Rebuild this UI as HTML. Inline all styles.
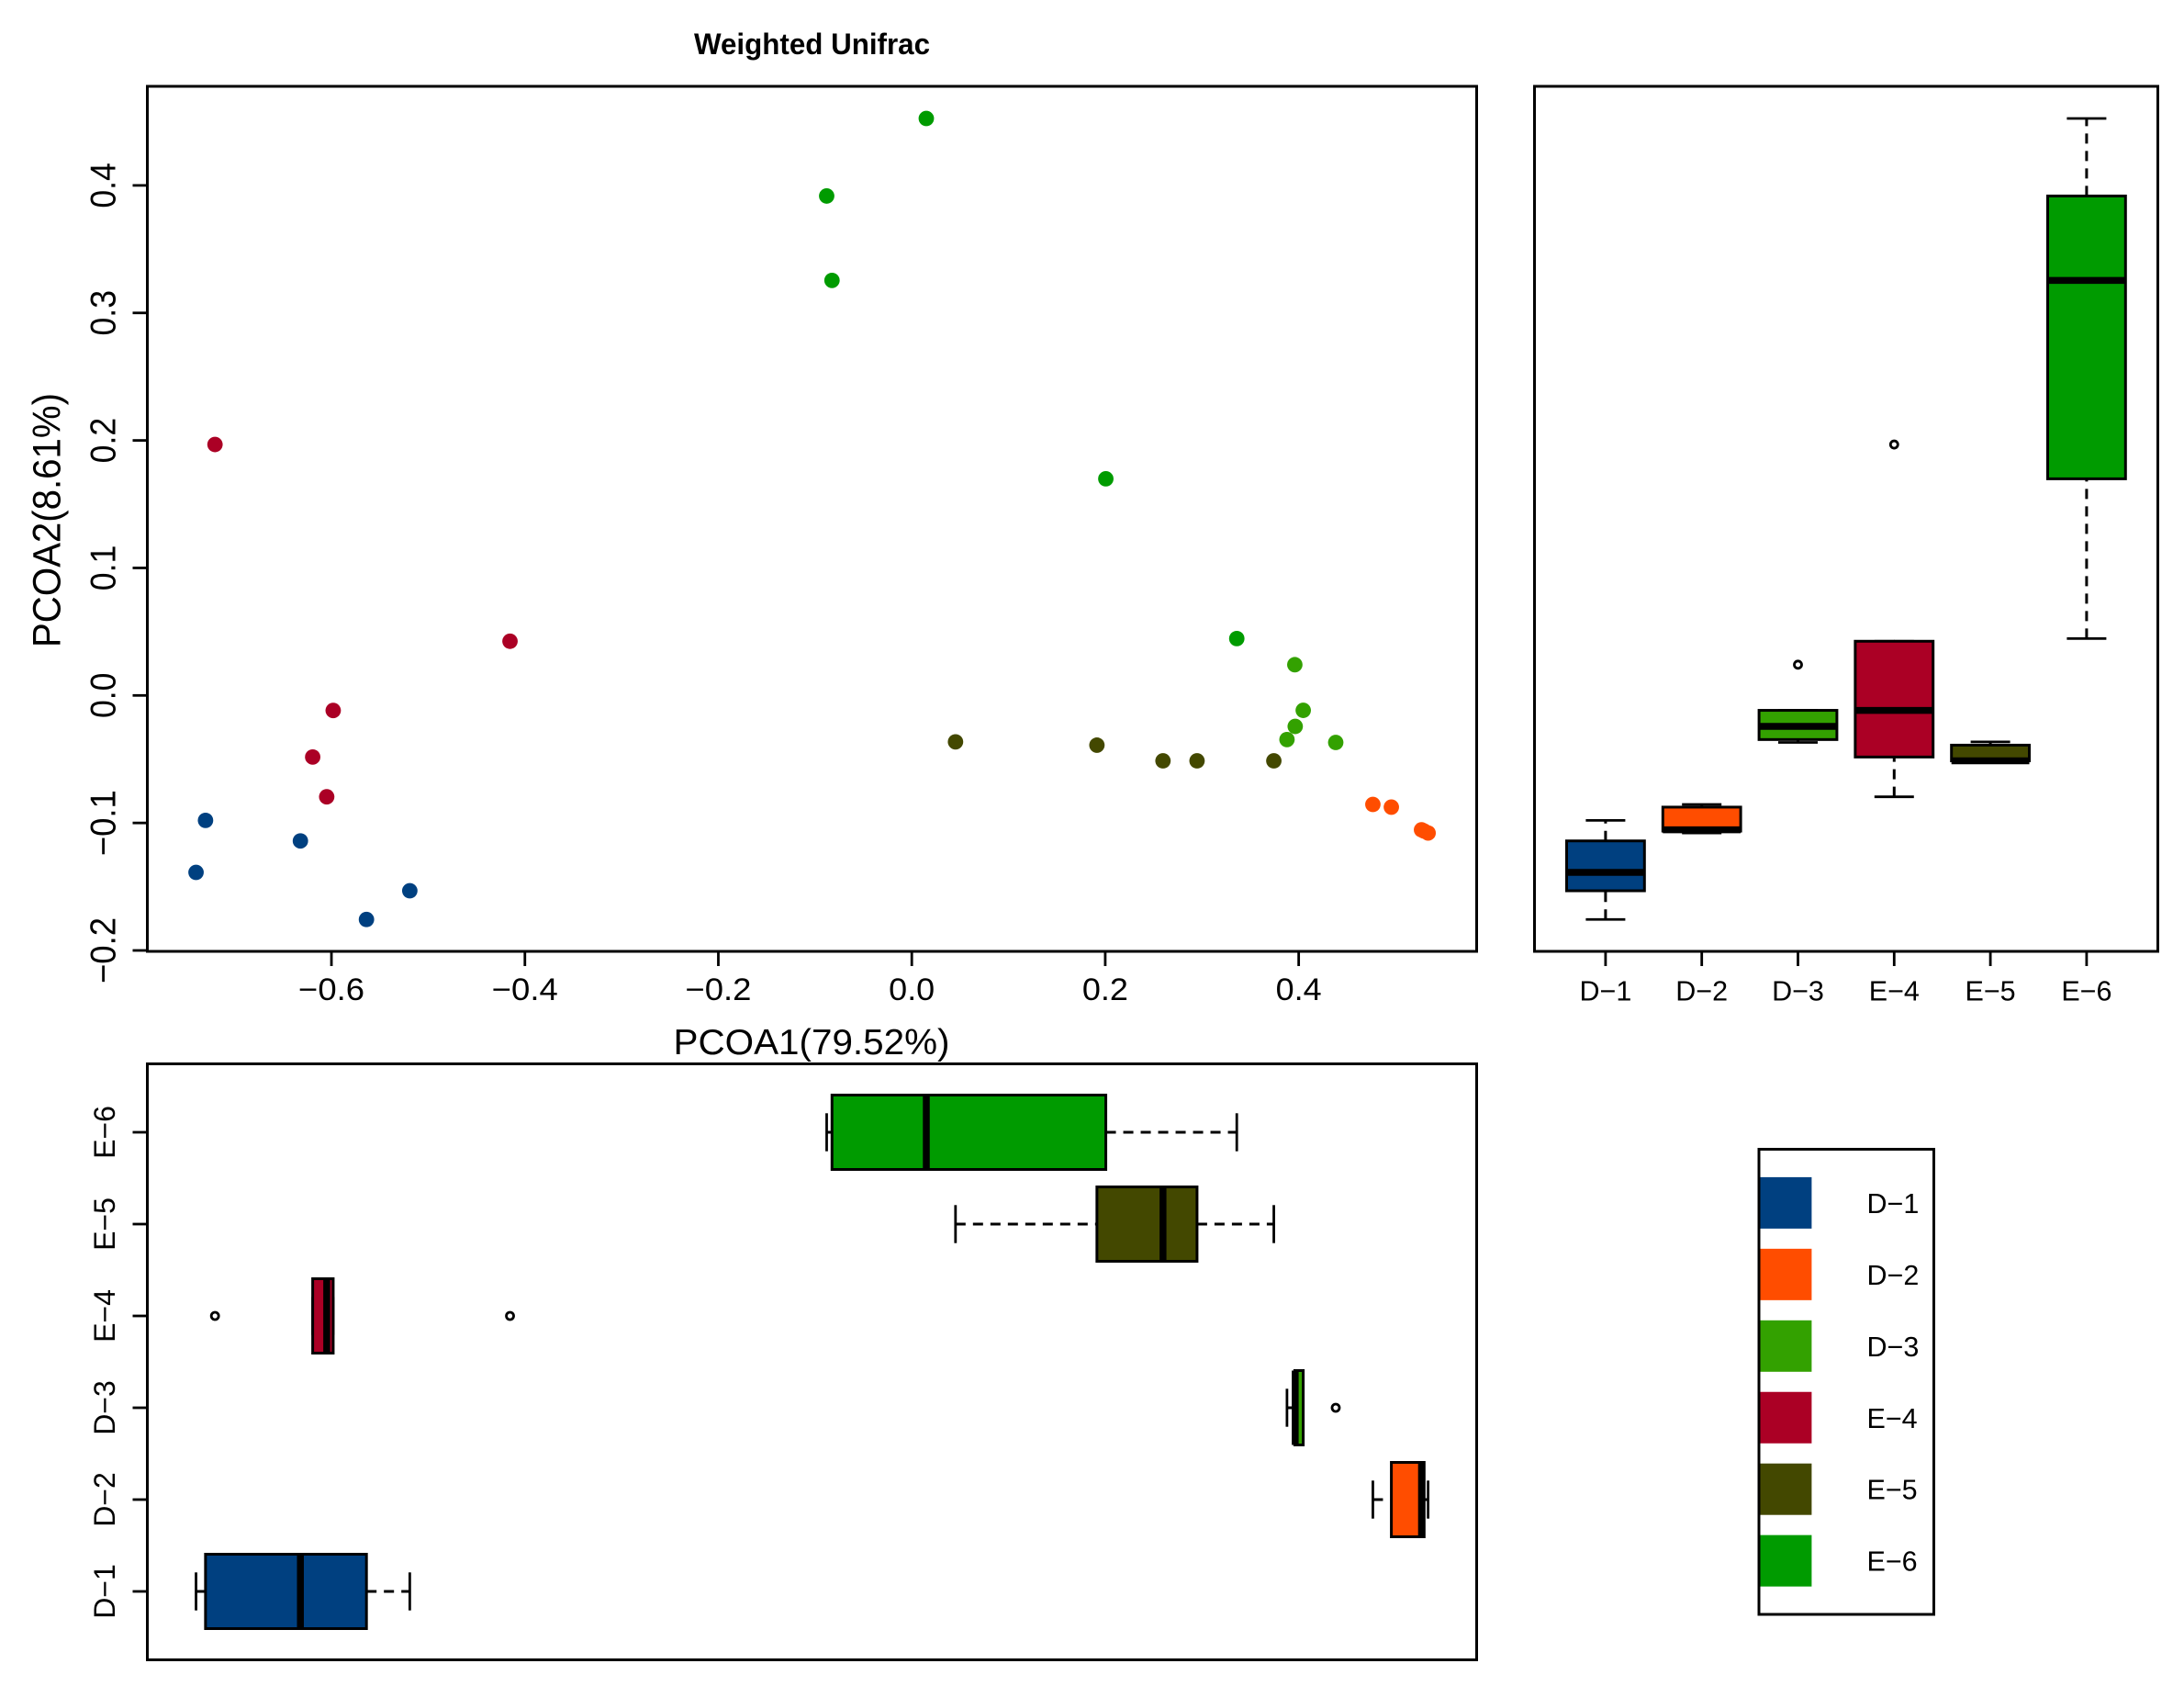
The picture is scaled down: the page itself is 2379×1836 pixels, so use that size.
<!DOCTYPE html>
<html lang="en">
<head>
<meta charset="utf-8">
<title>Weighted Unifrac PCoA</title>
<style>
html,body{margin:0;padding:0;background:#fff;}
svg{display:block;}
text{font-family:"Liberation Sans",sans-serif;fill:#000;}
</style>
</head>
<body>
<svg id="chart" xmlns="http://www.w3.org/2000/svg" width="2379" height="1836" viewBox="0 0 2379 1836">
  <rect x="0" y="0" width="2379" height="1836" fill="#fff"/>
  <text x="756" y="59" font-size="32" font-weight="bold" textLength="257" lengthAdjust="spacingAndGlyphs">Weighted Unifrac</text>
  <text x="733.5" y="1148" font-size="39" textLength="301" lengthAdjust="spacingAndGlyphs">PCOA1(79.52%)</text>
  <text x="65.5" y="705" font-size="43" textLength="277" lengthAdjust="spacingAndGlyphs" transform="rotate(-90 65.5 705)">PCOA2(8.61%)</text>
  <g id="scatter-panel"></g>
  <g id="y-box-panel"></g>
  <g id="x-box-panel"></g>
  <g id="legend"></g>
</svg>
<script>
const categories = ['D\u22121', 'D\u22122', 'D\u22123', 'E\u22124', 'E\u22125', 'E\u22126'];
const groupColors = ['#004080', '#FF4D00', '#33A100', '#AB0025', '#434800', '#009B00'];
const pcoa1D1 = [-0.7302, -0.6321, -0.74, -0.519, -0.5638];
const pcoa2D1 = [-0.098, -0.1141, -0.1388, -0.1532, -0.1757];
const pcoa1D2 = [0.4767, 0.4958, 0.527, 0.5297, 0.5338];
const pcoa2D2 = [-0.0855, -0.0876, -0.1054, -0.1064, -0.1079];
const pcoa1D3 = [0.396, 0.4047, 0.3964, 0.3879, 0.4383];
const pcoa2D3 = [0.0241, -0.0117, -0.0243, -0.0346, -0.0369];
const pcoa1E4 = [-0.7204, -0.4154, -0.5982, -0.6194, -0.6049];
const pcoa2E4 = [0.1968, 0.0425, -0.0118, -0.0483, -0.0795];
const pcoa1E5 = [0.0452, 0.1914, 0.2597, 0.2949, 0.3743];
const pcoa2E5 = [-0.0364, -0.039, -0.0513, -0.0513, -0.0513];
const pcoa1E6 = [0.015, -0.088, -0.0825, 0.2006, 0.336];
const pcoa2E6 = [0.4525, 0.3917, 0.3255, 0.1699, 0.0446];
const xTickValues = [-0.6, -0.4, -0.2, 0, 0.2, 0.4];
const xTickLabels = ['\u22120.6', '\u22120.4', '\u22120.2', '0.0', '0.2', '0.4'];
const yTickValues = [-0.2, -0.1, 0, 0.1, 0.2, 0.3, 0.4];
const yTickLabels = ['\u22120.2', '\u22120.1', '0.0', '0.1', '0.2', '0.3', '0.4'];

const SVGNS = 'http://www.w3.org/2000/svg';
const pcoa1Groups = [pcoa1D1, pcoa1D2, pcoa1D3, pcoa1E4, pcoa1E5, pcoa1E6];
const pcoa2Groups = [pcoa2D1, pcoa2D2, pcoa2D3, pcoa2E4, pcoa2E5, pcoa2E6];

function scaleX(v) { return 993.2 + 1053.6 * v; }
function scaleY(v) { return 757.3 - 1388.5 * v; }
function slotX(i) { return 1748.9 + 104.8 * i; }
function slotY(i) { return 1733 - 100 * i; }

function make(parent, tag, attrs, txt) {
  const el = document.createElementNS(SVGNS, tag);
  for (const k in attrs) el.setAttribute(k, attrs[k]);
  if (txt !== undefined) el.textContent = txt;
  parent.appendChild(el);
  return el;
}

function fivenum(values) {
  const s = values.slice().sort((a, b) => a - b);
  const n = s.length;
  const n4 = Math.floor((n + 3) / 2) / 2;
  const d = [1, n4, (n + 1) / 2, n + 1 - n4, n];
  return d.map(p => 0.5 * (s[Math.floor(p) - 1] + s[Math.ceil(p) - 1]));
}

function boxStats(values) {
  const f = fivenum(values);
  const iqr = f[3] - f[1];
  const inside = values.filter(v => v >= f[1] - 1.5 * iqr && v <= f[3] + 1.5 * iqr);
  const outliers = values.filter(v => v < f[1] - 1.5 * iqr || v > f[3] + 1.5 * iqr);
  return { q1: f[1], med: f[2], q3: f[3], lo: Math.min(...inside), hi: Math.max(...inside), outliers: outliers };
}

function frame(parent, x, y, w, h, name) {
  const el = make(parent, 'rect', { x: x, y: y, width: w, height: h, fill: 'none', stroke: '#000', 'stroke-width': 3 });
  
  
}

/* Scatter panel */
const scatter = document.getElementById('scatter-panel');
frame(scatter, 160.5, 94, 1448, 942, 'scatter-plot-frame');
xTickValues.forEach((v, i) => {
  const t = make(scatter, 'line', { x1: scaleX(v), x2: scaleX(v), y1: 1036, y2: 1052, stroke: '#000', 'stroke-width': 2.8 });
  
  
  const l = make(scatter, 'text', { x: scaleX(v), y: 1089, 'font-size': 34, 'text-anchor': 'middle', textLength: i < 3 ? 72 : 50, lengthAdjust: 'spacingAndGlyphs' }, xTickLabels[i]);
  
  
});
yTickValues.forEach((v, i) => {
  const t = make(scatter, 'line', { x1: 144.5, x2: 160.5, y1: scaleY(v), y2: scaleY(v), stroke: '#000', 'stroke-width': 2.8 });
  
  
  const py = scaleY(v);
  const l = make(scatter, 'text', { x: 125.5, y: py, 'font-size': 39, 'text-anchor': 'middle', textLength: i < 2 ? 72 : 49.5, lengthAdjust: 'spacingAndGlyphs', transform: 'rotate(-90 125.5 ' + py + ')' }, yTickLabels[i]);
  
  
});
pcoa1Groups.forEach((xs, g) => {
  xs.forEach((xv, i) => {
    const p = make(scatter, 'circle', { cx: scaleX(xv), cy: scaleY(pcoa2Groups[g][i]), r: 8.4, fill: groupColors[g] });
    
    
  });
});

/* Box drawing: pos is a pixel slot on the category axis, scale maps values */
function drawBox(parent, stats, color, vertical, pos, half, capHalf, scale) {
  function seg(v1, p1, v2, p2) {
    return vertical
      ? { x1: p1, x2: p2, y1: scale(v1), y2: scale(v2) }
      : { x1: scale(v1), x2: scale(v2), y1: p1, y2: p2 };
  }
  const lowWhisk = make(parent, 'line', Object.assign(seg(stats.lo, pos, stats.q1, pos), { stroke: '#000', 'stroke-width': 3, 'stroke-dasharray': '11 8' }));
  
  
  const highWhisk = make(parent, 'line', Object.assign(seg(stats.q3, pos, stats.hi, pos), { stroke: '#000', 'stroke-width': 3, 'stroke-dasharray': '11 8' }));
  
  
  const lowCap = make(parent, 'line', Object.assign(seg(stats.lo, pos - capHalf, stats.lo, pos + capHalf), { stroke: '#000', 'stroke-width': 2.8 }));
  
  
  const highCap = make(parent, 'line', Object.assign(seg(stats.hi, pos - capHalf, stats.hi, pos + capHalf), { stroke: '#000', 'stroke-width': 2.8 }));
  
  
  const a = scale(stats.q1), b = scale(stats.q3);
  const boxAttrs = vertical
    ? { x: pos - half, y: Math.min(a, b), width: half * 2, height: Math.abs(a - b) }
    : { x: Math.min(a, b), y: pos - half, width: Math.abs(a - b), height: half * 2 };
  const box = make(parent, 'rect', Object.assign(boxAttrs, { fill: color, stroke: '#000', 'stroke-width': 3 }));
  
  
  const med = make(parent, 'line', Object.assign(seg(stats.med, pos - half, stats.med, pos + half), { stroke: '#000', 'stroke-width': 7.5 }));
  
  
  stats.outliers.forEach(v => {
    const o = make(parent, 'circle', {
      cx: vertical ? pos : scale(v),
      cy: vertical ? scale(v) : pos,
      r: 4, fill: 'none', stroke: '#000', 'stroke-width': 2.8
    });
    
    
  });
}

/* PCOA2 boxplots (right) */
const yBoxPanel = document.getElementById('y-box-panel');
frame(yBoxPanel, 1671.5, 94, 679, 942, 'pcoa2-boxplot-frame');
categories.forEach((c, i) => {
  const px = slotX(i);
  const t = make(yBoxPanel, 'line', { x1: px, x2: px, y1: 1036, y2: 1052, stroke: '#000', 'stroke-width': 2.8 });
  
  
  const l = make(yBoxPanel, 'text', { x: px, y: 1089.5, 'font-size': 30.5, 'text-anchor': 'middle' }, c);
  
  
  drawBox(yBoxPanel, boxStats(pcoa2Groups[i]), groupColors[i], true, px, 42.4, 21.5, scaleY);
});

/* PCOA1 boxplots (bottom) */
const xBoxPanel = document.getElementById('x-box-panel');
frame(xBoxPanel, 160.5, 1158.5, 1448, 649, 'pcoa1-boxplot-frame');
categories.forEach((c, i) => {
  const py = slotY(i);
  const t = make(xBoxPanel, 'line', { x1: 144.5, x2: 160.5, y1: py, y2: py, stroke: '#000', 'stroke-width': 2.8 });
  
  
  const l = make(xBoxPanel, 'text', { x: 125, y: py, 'font-size': 32, 'text-anchor': 'middle', transform: 'rotate(-90 125 ' + py + ')' }, c);
  
  
  drawBox(xBoxPanel, boxStats(pcoa1Groups[i]), groupColors[i], false, py, 40.5, 20.7, scaleX);
});

/* Legend */
const legend = document.getElementById('legend');
categories.forEach((c, i) => {
  const cy = 1309.9 + 77.95 * i;
  const sw = make(legend, 'rect', { x: 1916, y: cy - 28, width: 57.4, height: 56, fill: groupColors[i] });
  
  
  const l = make(legend, 'text', { x: 2033.5, y: cy + 11, 'font-size': 30.5 }, c);
  
  
});
frame(legend, 1916, 1251.5, 190.5, 506.5, 'legend-frame');
</script>
</body>
</html>
